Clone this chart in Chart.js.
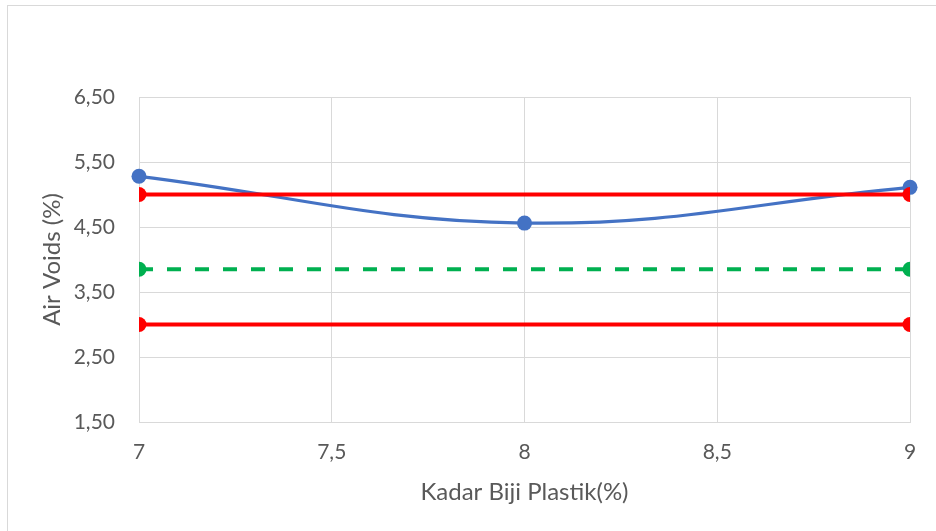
<!DOCTYPE html>
<html>
<head>
<meta charset="utf-8">
<script src="https://cdn.jsdelivr.net/npm/chart.js@4/dist/chart.umd.min.js"></script>
<style>
  html, body { margin: 0; padding: 0; background: #ffffff; overflow: hidden; }
  #wrap { position: relative; width: 936px; height: 531px; overflow: hidden; }
  #frame { position: absolute; left: 7px; top: 5px; width: 1000px; height: 600px;
           border: 1px solid #d9d9d9; box-sizing: border-box; }
  #chart { position: absolute; left: 0; top: 0; }
</style>
</head>
<body>
<div id="wrap">
  <div id="frame"></div>
  <canvas id="chart" width="936" height="531"></canvas>
</div>
<script>
// Kadar biji plastik (%) and measured air voids (%)
const kadar = [7, 8, 9];
const airVoids = [5.28, 4.56, 5.11];

// Specification limits drawn across the whole range
const batasX = [7, 9];
const batasAtas = [5.00, 5.00];
const batasBawah = [3.00, 3.00];
const nilaiTengah = [3.85, 3.85];

// Axis ranges and ticks
const xTicks = [7, 7.5, 8, 8.5, 9];
const yTicks = [1.5, 2.5, 3.5, 4.5, 5.5, 6.5];

const toPoints = (xs, ys) => xs.map((x, i) => ({ x: x, y: ys[i] }));
const comma = (v, d) => (d === null ? String(v) : v.toFixed(d)).replace('.', ',');

const textColor = '#595959';
const gridColor = '#d9d9d9';

new Chart(document.getElementById('chart'), {
  type: 'line',
  data: {
    datasets: [
      {
        data: toPoints(kadar, airVoids),
        borderColor: '#4472C4',
        backgroundColor: '#4472C4',
        borderWidth: 3.25,
        pointRadius: 7.5,
        pointBorderWidth: 0,
        tension: 0.4,
        clip: false,
        order: 2
      },
      {
        data: toPoints(batasX, batasAtas),
        borderColor: '#FF0000',
        backgroundColor: '#FF0000',
        borderWidth: 4,
        pointRadius: 7.5,
        pointBorderWidth: 0,
        order: 1
      },
      {
        data: toPoints(batasX, nilaiTengah),
        borderColor: '#00B050',
        backgroundColor: '#00B050',
        borderWidth: 4,
        borderDash: [14, 14],
        pointRadius: 7.5,
        pointBorderWidth: 0,
        order: 1
      },
      {
        data: toPoints(batasX, batasBawah),
        borderColor: '#FF0000',
        backgroundColor: '#FF0000',
        borderWidth: 4,
        pointRadius: 7.5,
        pointBorderWidth: 0,
        order: 1
      }
    ]
  },
  options: {
    responsive: false,
    animation: false,
    devicePixelRatio: 1,
    layout: { padding: { left: 8, top: 97, right: 26, bottom: 0 } },
    plugins: { legend: { display: false }, tooltip: { enabled: false } },
    scales: {
      x: {
        type: 'linear',
        min: xTicks[0],
        max: xTicks[xTicks.length - 1],
        afterBuildTicks: (s) => { s.ticks = xTicks.map(v => ({ value: v })); },
        afterFit: (s) => { s.height = 109; },
        ticks: {
          color: textColor,
          font: { family: 'Lato', size: 21 },
          padding: 18,
          maxRotation: 0,
          callback: (v) => comma(v, null)
        },
        grid: { color: gridColor, lineWidth: 1, drawTicks: false },
        border: { color: gridColor, width: 1 },
        title: {
          display: true,
          text: 'Kadar Biji Plastik(%)',
          color: textColor,
          font: { family: 'Lato', size: 24 },
          padding: { top: 0, bottom: 24 }
        }
      },
      y: {
        type: 'linear',
        min: yTicks[0],
        max: yTicks[yTicks.length - 1],
        afterBuildTicks: (s) => { s.ticks = yTicks.map(v => ({ value: v })); },
        afterFit: (s) => { s.width = 131; },
        ticks: {
          color: textColor,
          font: { family: 'Lato', size: 21 },
          padding: 24,
          callback: (v) => comma(v, 2)
        },
        grid: { color: gridColor, lineWidth: 1, drawTicks: false },
        border: { color: gridColor, width: 1 },
        title: {
          display: true,
          text: 'Air Voids (%)',
          color: textColor,
          font: { family: 'Lato', size: 24 },
          padding: { top: 30, bottom: 0 }
        }
      }
    }
  }
});
</script>
</body>
</html>
